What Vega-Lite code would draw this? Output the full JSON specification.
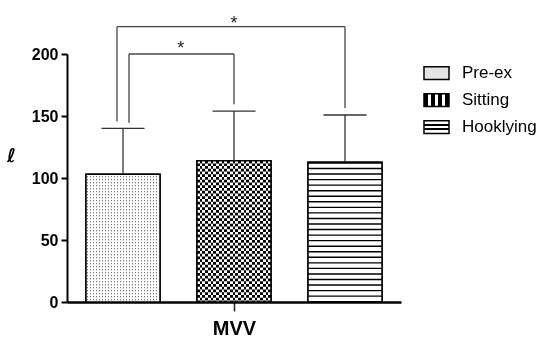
{
  "$schema": "https://vega.github.io/schema/vega-lite/v6.json",
  "width": 334,
  "height": 248,
  "autosize": {"type": "none"},
  "padding": {"left": 67, "top": 54, "right": 141, "bottom": 36},
  "background": "white",
  "config": {"view": {"stroke": null}, "font": "Liberation Sans"},
  "datasets": {
    "bars": [
      {"condition": "Pre-ex", "mean": 103, "upper": 140},
      {"condition": "Sitting", "mean": 114, "upper": 154},
      {"condition": "Hooklying", "mean": 112.7, "upper": 150.8}
    ],
    "brackets": [
      {"pair": "outer", "from": "Pre-ex", "to": "Hooklying", "top": 222, "left_end": 145.5, "right_end": 156.5},
      {"pair": "inner", "from": "Pre-ex", "to": "Sitting", "top": 200, "left_end": 144.5, "right_end": 159.5}
    ]
  },
  "layer": [
    {
      "data": {"name": "bars"},
      "mark": {"type": "bar", "stroke": "#000", "strokeWidth": 1.5},
      "encoding": {
        "x": {"field": "condition", "type": "nominal", "title": "MVV",
          "scale": {"domain": ["Pre-ex", "Sitting", "Hooklying"], "paddingInner": 0.3333333, "paddingOuter": 0.171171},
          "axis": {"values": ["Sitting"], "labels": false, "title": "MVV", "titleFont": "Liberation Sans", "titleFontSize": 20, "titleFontWeight": "bold", "titleColor": "#000", "titlePadding": 7, "tickSize": 9, "tickWidth": 1.5, "tickColor": "#222", "domainColor": "#000", "domainWidth": 2.5, "grid": false}},
        "y": {"field": "mean", "type": "quantitative", "title": "ℓ",
          "scale": {"domain": [0, 200], "nice": false},
          "axis": {"values": [0, 50, 100, 150, 200], "title": "ℓ", "titleAngle": 0, "titleX": -56, "titleY": 101, "titleAlign": "center", "titleBaseline": "middle", "titleFont": "DejaVu Sans", "titleFontSize": 19, "titleFontWeight": "bold", "titleColor": "#000", "labelFont": "Liberation Sans", "labelFontSize": 16, "labelFontWeight": "bold", "labelColor": "#000", "labelPadding": 3, "tickSize": 6, "tickWidth": 2, "tickColor": "#000", "domainColor": "#000", "domainWidth": 2, "grid": false}},
        "fill": {"field": "condition", "type": "nominal",
          "scale": {"domain": ["Pre-ex", "Sitting", "Hooklying"],
            "range": [
              "#e4e4e4",
              {"expr": "{gradient:'linear',x1:0,y1:0,x2:1,y2:0,stops:[{offset:0,color:'#000'},{offset:0.143,color:'#000'},{offset:0.143,color:'#fff'},{offset:0.286,color:'#fff'},{offset:0.286,color:'#000'},{offset:0.429,color:'#000'},{offset:0.429,color:'#fff'},{offset:0.571,color:'#fff'},{offset:0.571,color:'#000'},{offset:0.714,color:'#000'},{offset:0.714,color:'#fff'},{offset:0.857,color:'#fff'},{offset:0.857,color:'#000'},{offset:1,color:'#000'}]}"},
              {"expr": "{gradient:'linear',x1:0,y1:0,x2:0,y2:1,stops:[{offset:0,color:'#fff'},{offset:0.28,color:'#fff'},{offset:0.28,color:'#000'},{offset:0.4,color:'#000'},{offset:0.4,color:'#fff'},{offset:0.6,color:'#fff'},{offset:0.6,color:'#000'},{offset:0.72,color:'#000'},{offset:0.72,color:'#fff'},{offset:1,color:'#fff'}]}"}
            ]},
          "legend": {"title": null, "orient": "none", "legendX": 356, "legendY": 5.5, "padding": 0,
            "symbolType": "M-1,-0.51H1V0.51H-1Z", "symbolSize": 625, "symbolStrokeColor": "#000", "symbolStrokeWidth": 1.5,
            "labelFont": "Liberation Sans", "labelFontSize": 17, "labelColor": "#000", "labelOffset": 12, "rowPadding": 4}}
      }
    },
    {
      "data": {"name": "bars"},
      "mark": {"type": "bar", "fill": "#fff"},
      "encoding": {
        "x": {"field": "condition", "type": "nominal", "title": "MVV"},
        "y": {"field": "mean", "type": "quantitative", "title": "ℓ"}
      }
    },
    {
      "data": {"name": "bars"},
      "transform": [{"filter": "datum.condition === 'Pre-ex'"}],
      "mark": {"type": "bar", "fill": {"gradient": "linear", "x1": 0, "y1": 0, "x2": 1, "y2": 0, "stops": [
        {"offset": 0, "color": "#fff"},
        {"offset": 0.0135, "color": "#fff"}, {"offset": 0.0135, "color": "#4d4d4d"}, {"offset": 0.027, "color": "#4d4d4d"}, {"offset": 0.027, "color": "#fff"},
        {"offset": 0.0541, "color": "#fff"}, {"offset": 0.0541, "color": "#4d4d4d"}, {"offset": 0.0676, "color": "#4d4d4d"}, {"offset": 0.0676, "color": "#fff"},
        {"offset": 0.0946, "color": "#fff"}, {"offset": 0.0946, "color": "#4d4d4d"}, {"offset": 0.1081, "color": "#4d4d4d"}, {"offset": 0.1081, "color": "#fff"},
        {"offset": 0.1351, "color": "#fff"}, {"offset": 0.1351, "color": "#4d4d4d"}, {"offset": 0.1486, "color": "#4d4d4d"}, {"offset": 0.1486, "color": "#fff"},
        {"offset": 0.1757, "color": "#fff"}, {"offset": 0.1757, "color": "#4d4d4d"}, {"offset": 0.1892, "color": "#4d4d4d"}, {"offset": 0.1892, "color": "#fff"},
        {"offset": 0.2162, "color": "#fff"}, {"offset": 0.2162, "color": "#4d4d4d"}, {"offset": 0.2297, "color": "#4d4d4d"}, {"offset": 0.2297, "color": "#fff"},
        {"offset": 0.2568, "color": "#fff"}, {"offset": 0.2568, "color": "#4d4d4d"}, {"offset": 0.2703, "color": "#4d4d4d"}, {"offset": 0.2703, "color": "#fff"},
        {"offset": 0.2973, "color": "#fff"}, {"offset": 0.2973, "color": "#4d4d4d"}, {"offset": 0.3108, "color": "#4d4d4d"}, {"offset": 0.3108, "color": "#fff"},
        {"offset": 0.3378, "color": "#fff"}, {"offset": 0.3378, "color": "#4d4d4d"}, {"offset": 0.3514, "color": "#4d4d4d"}, {"offset": 0.3514, "color": "#fff"},
        {"offset": 0.3784, "color": "#fff"}, {"offset": 0.3784, "color": "#4d4d4d"}, {"offset": 0.3919, "color": "#4d4d4d"}, {"offset": 0.3919, "color": "#fff"},
        {"offset": 0.4189, "color": "#fff"}, {"offset": 0.4189, "color": "#4d4d4d"}, {"offset": 0.4324, "color": "#4d4d4d"}, {"offset": 0.4324, "color": "#fff"},
        {"offset": 0.4595, "color": "#fff"}, {"offset": 0.4595, "color": "#4d4d4d"}, {"offset": 0.473, "color": "#4d4d4d"}, {"offset": 0.473, "color": "#fff"},
        {"offset": 0.5, "color": "#fff"}, {"offset": 0.5, "color": "#4d4d4d"}, {"offset": 0.5135, "color": "#4d4d4d"}, {"offset": 0.5135, "color": "#fff"},
        {"offset": 0.5405, "color": "#fff"}, {"offset": 0.5405, "color": "#4d4d4d"}, {"offset": 0.5541, "color": "#4d4d4d"}, {"offset": 0.5541, "color": "#fff"},
        {"offset": 0.5811, "color": "#fff"}, {"offset": 0.5811, "color": "#4d4d4d"}, {"offset": 0.5946, "color": "#4d4d4d"}, {"offset": 0.5946, "color": "#fff"},
        {"offset": 0.6216, "color": "#fff"}, {"offset": 0.6216, "color": "#4d4d4d"}, {"offset": 0.6351, "color": "#4d4d4d"}, {"offset": 0.6351, "color": "#fff"},
        {"offset": 0.6622, "color": "#fff"}, {"offset": 0.6622, "color": "#4d4d4d"}, {"offset": 0.6757, "color": "#4d4d4d"}, {"offset": 0.6757, "color": "#fff"},
        {"offset": 0.7027, "color": "#fff"}, {"offset": 0.7027, "color": "#4d4d4d"}, {"offset": 0.7162, "color": "#4d4d4d"}, {"offset": 0.7162, "color": "#fff"},
        {"offset": 0.7432, "color": "#fff"}, {"offset": 0.7432, "color": "#4d4d4d"}, {"offset": 0.7568, "color": "#4d4d4d"}, {"offset": 0.7568, "color": "#fff"},
        {"offset": 0.7838, "color": "#fff"}, {"offset": 0.7838, "color": "#4d4d4d"}, {"offset": 0.7973, "color": "#4d4d4d"}, {"offset": 0.7973, "color": "#fff"},
        {"offset": 0.8243, "color": "#fff"}, {"offset": 0.8243, "color": "#4d4d4d"}, {"offset": 0.8378, "color": "#4d4d4d"}, {"offset": 0.8378, "color": "#fff"},
        {"offset": 0.8649, "color": "#fff"}, {"offset": 0.8649, "color": "#4d4d4d"}, {"offset": 0.8784, "color": "#4d4d4d"}, {"offset": 0.8784, "color": "#fff"},
        {"offset": 0.9054, "color": "#fff"}, {"offset": 0.9054, "color": "#4d4d4d"}, {"offset": 0.9189, "color": "#4d4d4d"}, {"offset": 0.9189, "color": "#fff"},
        {"offset": 0.9459, "color": "#fff"}, {"offset": 0.9459, "color": "#4d4d4d"}, {"offset": 0.9595, "color": "#4d4d4d"}, {"offset": 0.9595, "color": "#fff"},
        {"offset": 1, "color": "#fff"}
      ]}},
      "encoding": {
        "x": {"field": "condition", "type": "nominal", "title": "MVV"},
        "y": {"field": "mean", "type": "quantitative", "title": "ℓ"}
      }
    },
    {
      "data": {"name": "bars"},
      "transform": [{"filter": "datum.condition === 'Sitting'"}],
      "mark": {"type": "bar", "fill": {"gradient": "linear", "x1": 0, "y1": 0, "x2": 1, "y2": 0, "stops": [
        {"offset": 0, "color": "#000"}, {"offset": 0.037, "color": "#000"}, {"offset": 0.037, "color": "#fff"}, {"offset": 0.0741, "color": "#fff"},
        {"offset": 0.0741, "color": "#000"}, {"offset": 0.1111, "color": "#000"}, {"offset": 0.1111, "color": "#fff"}, {"offset": 0.1481, "color": "#fff"},
        {"offset": 0.1481, "color": "#000"}, {"offset": 0.1852, "color": "#000"}, {"offset": 0.1852, "color": "#fff"}, {"offset": 0.2222, "color": "#fff"},
        {"offset": 0.2222, "color": "#000"}, {"offset": 0.2593, "color": "#000"}, {"offset": 0.2593, "color": "#fff"}, {"offset": 0.2963, "color": "#fff"},
        {"offset": 0.2963, "color": "#000"}, {"offset": 0.3333, "color": "#000"}, {"offset": 0.3333, "color": "#fff"}, {"offset": 0.3704, "color": "#fff"},
        {"offset": 0.3704, "color": "#000"}, {"offset": 0.4074, "color": "#000"}, {"offset": 0.4074, "color": "#fff"}, {"offset": 0.4444, "color": "#fff"},
        {"offset": 0.4444, "color": "#000"}, {"offset": 0.4815, "color": "#000"}, {"offset": 0.4815, "color": "#fff"}, {"offset": 0.5185, "color": "#fff"},
        {"offset": 0.5185, "color": "#000"}, {"offset": 0.5556, "color": "#000"}, {"offset": 0.5556, "color": "#fff"}, {"offset": 0.5926, "color": "#fff"},
        {"offset": 0.5926, "color": "#000"}, {"offset": 0.6296, "color": "#000"}, {"offset": 0.6296, "color": "#fff"}, {"offset": 0.6667, "color": "#fff"},
        {"offset": 0.6667, "color": "#000"}, {"offset": 0.7037, "color": "#000"}, {"offset": 0.7037, "color": "#fff"}, {"offset": 0.7407, "color": "#fff"},
        {"offset": 0.7407, "color": "#000"}, {"offset": 0.7778, "color": "#000"}, {"offset": 0.7778, "color": "#fff"}, {"offset": 0.8148, "color": "#fff"},
        {"offset": 0.8148, "color": "#000"}, {"offset": 0.8519, "color": "#000"}, {"offset": 0.8519, "color": "#fff"}, {"offset": 0.8889, "color": "#fff"},
        {"offset": 0.8889, "color": "#000"}, {"offset": 0.9259, "color": "#000"}, {"offset": 0.9259, "color": "#fff"}, {"offset": 0.963, "color": "#fff"},
        {"offset": 0.963, "color": "#000"}, {"offset": 1, "color": "#000"}
      ]}},
      "encoding": {
        "x": {"field": "condition", "type": "nominal", "title": "MVV"},
        "y": {"field": "mean", "type": "quantitative", "title": "ℓ"}
      }
    },
    {
      "data": {"name": "bars"},
      "transform": [{"filter": "datum.condition === 'Pre-ex'"}],
      "mark": {"type": "rule", "stroke": "#fff", "strokeWidth": 74, "strokeCap": "butt", "strokeDash": [2, 1]},
      "encoding": {
        "x": {"field": "condition", "type": "nominal", "title": "MVV"},
        "y": {"field": "mean", "type": "quantitative", "title": "ℓ"},
        "y2": {"datum": 0}
      }
    },
    {
      "data": {"name": "bars"},
      "transform": [{"filter": "datum.condition === 'Sitting'"}],
      "mark": {"type": "rule", "stroke": "#fff", "strokeWidth": 74, "strokeCap": "butt", "strokeDash": [2.74, 2.74], "blend": "difference"},
      "encoding": {
        "x": {"field": "condition", "type": "nominal", "title": "MVV"},
        "y": {"field": "mean", "type": "quantitative", "title": "ℓ"},
        "y2": {"datum": 0}
      }
    },
    {
      "data": {"name": "bars"},
      "transform": [{"filter": "datum.condition === 'Hooklying'"}],
      "mark": {"type": "rule", "stroke": "#000", "strokeWidth": 74, "strokeCap": "butt", "strokeDash": [1.4, 4.15]},
      "encoding": {
        "x": {"field": "condition", "type": "nominal", "title": "MVV"},
        "y": {"field": "mean", "type": "quantitative", "title": "ℓ"},
        "y2": {"datum": 0}
      }
    },
    {
      "data": {"name": "bars"},
      "mark": {"type": "bar", "filled": false, "stroke": "#000", "strokeWidth": 1.5},
      "encoding": {
        "x": {"field": "condition", "type": "nominal", "title": "MVV"},
        "y": {"field": "mean", "type": "quantitative", "title": "ℓ"}
      }
    },
    {
      "data": {"name": "bars"},
      "mark": {"type": "rule", "stroke": "#333", "strokeWidth": 1.3},
      "encoding": {
        "x": {"field": "condition", "type": "nominal", "title": "MVV"},
        "y": {"field": "mean", "type": "quantitative", "title": "ℓ"},
        "y2": {"field": "upper"}
      }
    },
    {
      "data": {"name": "bars"},
      "mark": {"type": "tick", "orient": "horizontal", "size": 43, "thickness": 1.3, "color": "#333", "opacity": 1},
      "encoding": {
        "x": {"field": "condition", "type": "nominal", "title": "MVV"},
        "y": {"field": "upper", "type": "quantitative", "title": "ℓ"}
      }
    },
    {
      "data": {"name": "brackets"},
      "transform": [{"filter": "datum.pair === 'outer'"}],
      "layer": [
        {"mark": {"type": "rule", "stroke": "#444", "strokeWidth": 1.3, "xOffset": -6, "clip": false},
         "encoding": {"x": {"field": "from", "type": "nominal", "title": "MVV"}, "x2": {"field": "to"}, "y": {"field": "top", "type": "quantitative", "title": "ℓ"}}},
        {"mark": {"type": "rule", "stroke": "#444", "strokeWidth": 1.3, "xOffset": -6, "clip": false},
         "encoding": {"x": {"field": "from", "type": "nominal", "title": "MVV"}, "y": {"field": "left_end", "type": "quantitative", "title": "ℓ"}, "y2": {"field": "top"}}},
        {"mark": {"type": "text", "text": "*", "fontSize": 18, "color": "#222", "baseline": "alphabetic", "clip": false, "dy": 2},
         "encoding": {"x": {"field": "to", "type": "nominal", "title": "MVV", "bandPosition": -1.0}, "y": {"field": "top", "type": "quantitative", "title": "ℓ"}}}
      ]
    },
    {
      "data": {"name": "brackets"},
      "transform": [{"filter": "datum.pair === 'inner'"}],
      "layer": [
        {"mark": {"type": "rule", "stroke": "#444", "strokeWidth": 1.3, "xOffset": 6, "clip": false},
         "encoding": {"x": {"field": "from", "type": "nominal", "title": "MVV"}, "x2": {"field": "to"}, "y": {"field": "top", "type": "quantitative", "title": "ℓ"}}},
        {"mark": {"type": "rule", "stroke": "#444", "strokeWidth": 1.3, "xOffset": 6, "clip": false},
         "encoding": {"x": {"field": "from", "type": "nominal", "title": "MVV"}, "y": {"field": "left_end", "type": "quantitative", "title": "ℓ"}, "y2": {"field": "top"}}},
        {"mark": {"type": "text", "text": "*", "fontSize": 18, "color": "#222", "baseline": "alphabetic", "clip": false, "dy": 0},
         "encoding": {"x": {"field": "from", "type": "nominal", "title": "MVV", "bandPosition": 1.28}, "y": {"field": "top", "type": "quantitative", "title": "ℓ"}}}
      ]
    },
    {
      "data": {"name": "brackets"},
      "mark": {"type": "rule", "stroke": "#444", "strokeWidth": 1.3, "clip": false},
      "encoding": {
        "x": {"field": "to", "type": "nominal", "title": "MVV"},
        "y": {"field": "right_end", "type": "quantitative", "title": "ℓ"},
        "y2": {"field": "top"}
      }
    }
  ]
}
